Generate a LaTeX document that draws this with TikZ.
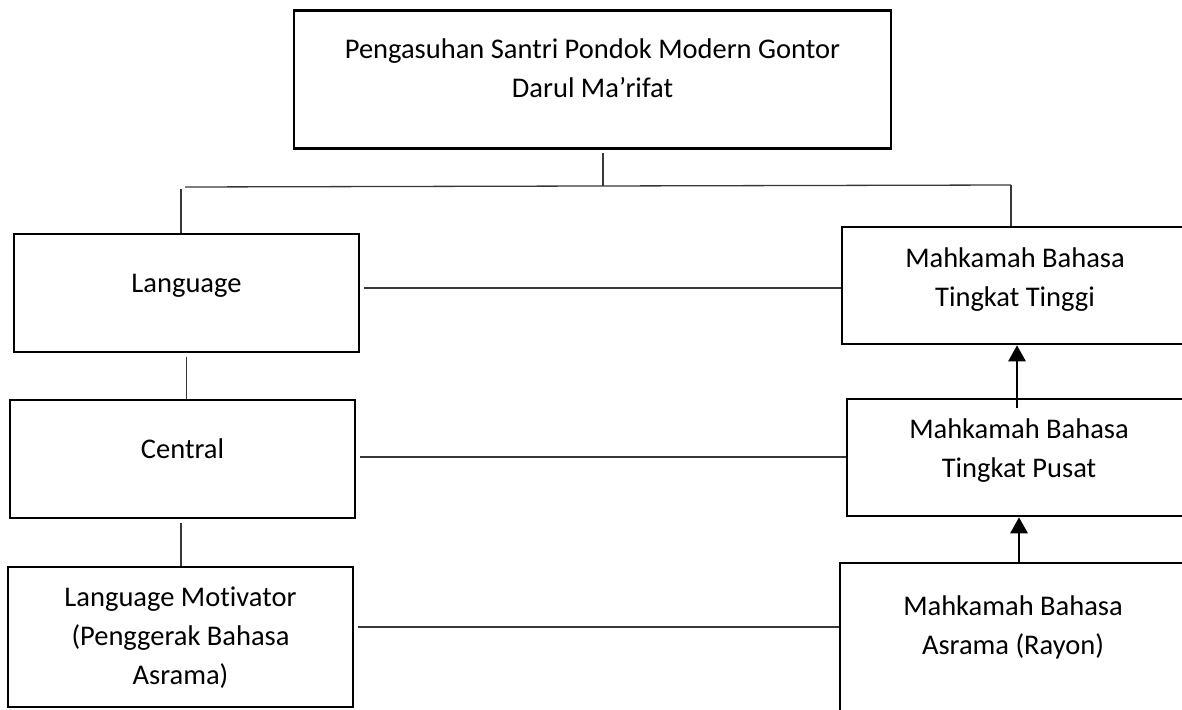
\documentclass[tikz,border=0pt]{standalone}
\usepackage{fontspec}
\setmainfont[Ligatures={NoCommon}]{Carlito}
\usetikzlibrary{arrows.meta}
\tikzset{
  box/.style={draw=black, line width=2.5pt, fill=white, rectangle, inner sep=0pt},
  txt/.style={align=center, inner sep=0pt, anchor=base, font=\fontsize{28.5}{38.8}\selectfont},
  conn/.style={draw=black!78, line width=1.3pt},
  arr/.style={draw=black, line width=2.6pt, -{Triangle[length=16pt,width=17pt]}}
}
\begin{document}
\begin{tikzpicture}[x=1pt,y=-1pt]
\useasboundingbox (0,0) rectangle (1182,709);
\clip (0,0) rectangle (1182,709);
% boxes
\node[box, minimum width=597pt, minimum height=138pt] (top) at (592.5,79.5) {};
\node[box, minimum width=345pt, minimum height=118pt] (lang) at (186.5,293) {};
\node[box, minimum width=345pt, minimum height=118pt] (central) at (182.5,459) {};
\node[box, minimum width=345pt, minimum height=140pt] (motiv) at (180.5,637) {};
\node[box, minimum width=458pt, minimum height=117pt] (tinggi) at (1071,285.5) {};
\node[box, minimum width=453pt, minimum height=117pt] (pusat) at (1073.5,457.5) {};
\node[box, minimum width=460pt, minimum height=237pt] (rayon) at (1070,681.5) {};
% texts (anchor = baseline of last line)
\node[txt] (topT) at (592.5,97) {Pengasuhan Santri Pondok Modern Gontor\\Darul Ma’rifat};
\node[txt] (langT) at (186.5,292) {Language};
\node[txt] (centralT) at (182.5,458) {Central};
\node[txt] (motivT) at (180.5,684) {Language Motivator\\(Penggerak Bahasa\\Asrama)};
\node[txt] (tinggiT) at (1015,306) {Mahkamah Bahasa\\Tingkat Tinggi};
\node[txt] (pusatT) at (1019,477) {Mahkamah Bahasa\\Tingkat Pusat};
\node[txt] (rayonT) at (1013,654) {Mahkamah Bahasa\\Asrama (Rayon)};
% connectors
\coordinate (tj) at (603,186);
\coordinate (hl) at (181,187);
\coordinate (hr) at (1011,185);
\draw[conn] ([yshift=-3pt]top.south -| tj) -- (tj);
\draw[conn] ([xshift=4pt]hl) -- (hr);
\draw[conn] ([yshift=-2pt]hl) -- (hl |- lang.north);
\draw[conn] (hr) -- (hr |- tinggi.north);
\draw[conn, shorten <=4pt] (lang.south) -- (lang.south |- central.north);
\draw[conn, shorten <=4pt] ([xshift=-1.5pt]central.south) -- ([xshift=-1.5pt]central.south |- motiv.north);
\draw[conn, shorten <=4pt] ([yshift=5pt]lang.east) -- ([yshift=5pt]lang.east -| tinggi.west);
\draw[conn, shorten <=4pt] ([yshift=2pt]central.east) -- ([yshift=2pt]central.east -| pusat.west);
\draw[conn, shorten <=4pt] ([yshift=10pt]motiv.east) -- ([yshift=10pt]motiv.east -| rayon.west);
% arrows
\draw[arr] ([yshift=-10pt]pusat.north -| tinggiT) ++(2pt,0) -- ([xshift=2pt]tinggi.south -| tinggiT);
\draw[arr] (rayon.north -| pusatT) -- (pusat.south -| pusatT);
\end{tikzpicture}
\end{document}
